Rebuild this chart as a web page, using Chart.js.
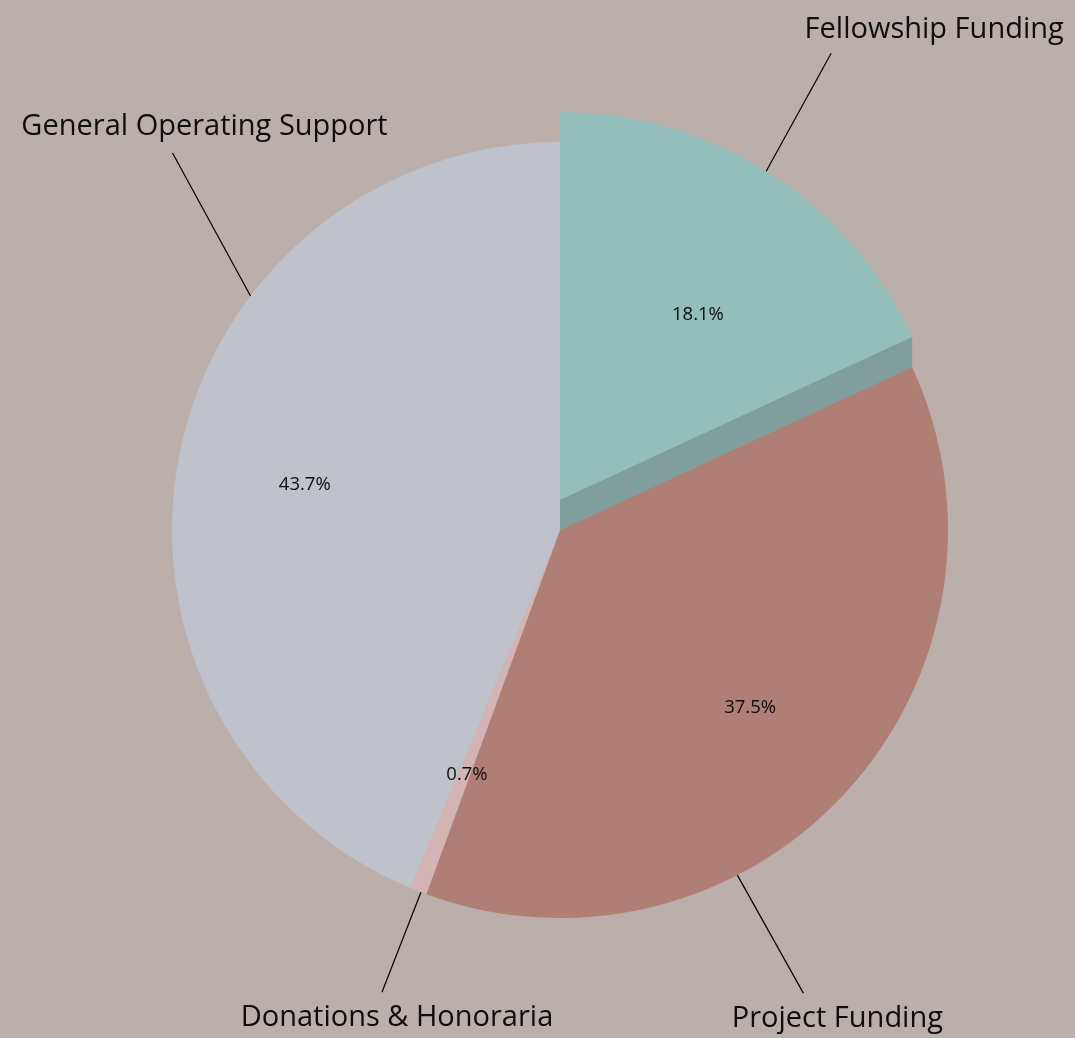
<!DOCTYPE html>
<html><head><meta charset="utf-8">
<script src="https://cdn.jsdelivr.net/npm/chart.js@4/dist/chart.umd.min.js"></script>
<style>html,body{margin:0;padding:0;background:#BBAFAC;}#wrap{width:1075px;height:1038px;}</style>
</head><body><div id="wrap"><canvas id="c" width="1075" height="1038"></canvas></div>
<script>
const categories = ["Fellowship Funding", "Project Funding", "Donations & Honoraria", "General Operating Support"];
const shares = [18.1, 37.5, 0.7, 43.7];
const sliceColors = ["#7F9E9C", "#AF7E74", "#D4B3B4", "#BFC2CA"];
const pulledColor = "#93BEBA";

// label layout (angles in degrees clockwise from top, fractions of radius)
const outerLayout = [
  {a: 32.1, line: [65, -118], text: [103, -24]},
  {a: 152.8, line: [66, 118], text: [34, 26]},
  {a: 201, line: [-39, 100], text: [15, 26]},
  {a: 307.1, line: [-78, -143], text: [32, -26]}
];
const innerLayout = [[36.7, 0.595], [133, 0.67], [200.8, 0.675], [280, 0.668]];
const PULL = 30;

const pullPlugin = {
  id: 'pull',
  afterDatasetsDraw(chart) {
    const ctx = chart.ctx;
    const el = chart.getDatasetMeta(0).data[0];
    const {x, y, outerRadius, endAngle} = el.getProps(['x','y','outerRadius','endAngle'], true);
    const ex = x + outerRadius * Math.cos(endAngle), ey = y + outerRadius * Math.sin(endAngle);
    ctx.save();
    ctx.fillStyle = sliceColors[0];
    ctx.beginPath();
    ctx.moveTo(x, y); ctx.lineTo(ex, ey); ctx.lineTo(ex, ey - PULL); ctx.lineTo(x, y - PULL); ctx.closePath();
    ctx.fill();
    ctx.translate(0, -PULL);
    const orig = el.options.backgroundColor;
    el.options.backgroundColor = pulledColor;
    el.draw(ctx);
    el.options.backgroundColor = orig;
    ctx.restore();

    // labels
    ctx.save();
    const meta = chart.getDatasetMeta(0);
    meta.data.forEach((arc, i) => {
      const p = arc.getProps(['x','y','outerRadius'], true);
      const cy = p.y - (i === 0 ? PULL : 0);
      const r = p.outerRadius;
      const L = outerLayout[i];
      const ang = L.a * Math.PI / 180;
      const sx = p.x + r * Math.sin(ang), sy = cy - r * Math.cos(ang);
      const tx = sx + L.line[0], ty = sy + L.line[1];
      ctx.strokeStyle = '#000'; ctx.lineWidth = 1.2;
      ctx.beginPath(); ctx.moveTo(sx, sy); ctx.lineTo(tx, ty); ctx.stroke();
      ctx.fillStyle = '#0d0d0d';
      ctx.font = '29px "Open Sans"';
      ctx.textAlign = 'center'; ctx.textBaseline = 'middle';
      ctx.fillText(categories[i], tx + L.text[0], ty + L.text[1]);
      const [ia, f] = innerLayout[i];
      const ir = ia * Math.PI / 180;
      ctx.font = '18.5px "Open Sans"';
      ctx.fillText(shares[i].toFixed(1) + '%', p.x + f * r * Math.sin(ir), cy - f * r * Math.cos(ir));
    });
    ctx.restore();
  }
};

new Chart(document.getElementById('c'), {
  type: 'pie',
  data: { labels: categories, datasets: [{ data: shares, backgroundColor: sliceColors, borderWidth: 0 }] },
  options: {
    responsive: false, animation: false,
    layout: { padding: { left: 172, right: 127, top: 142, bottom: 120 } },
    plugins: { legend: { display: false }, tooltip: { enabled: false } }
  },
  plugins: [pullPlugin]
});
</script></body></html>
